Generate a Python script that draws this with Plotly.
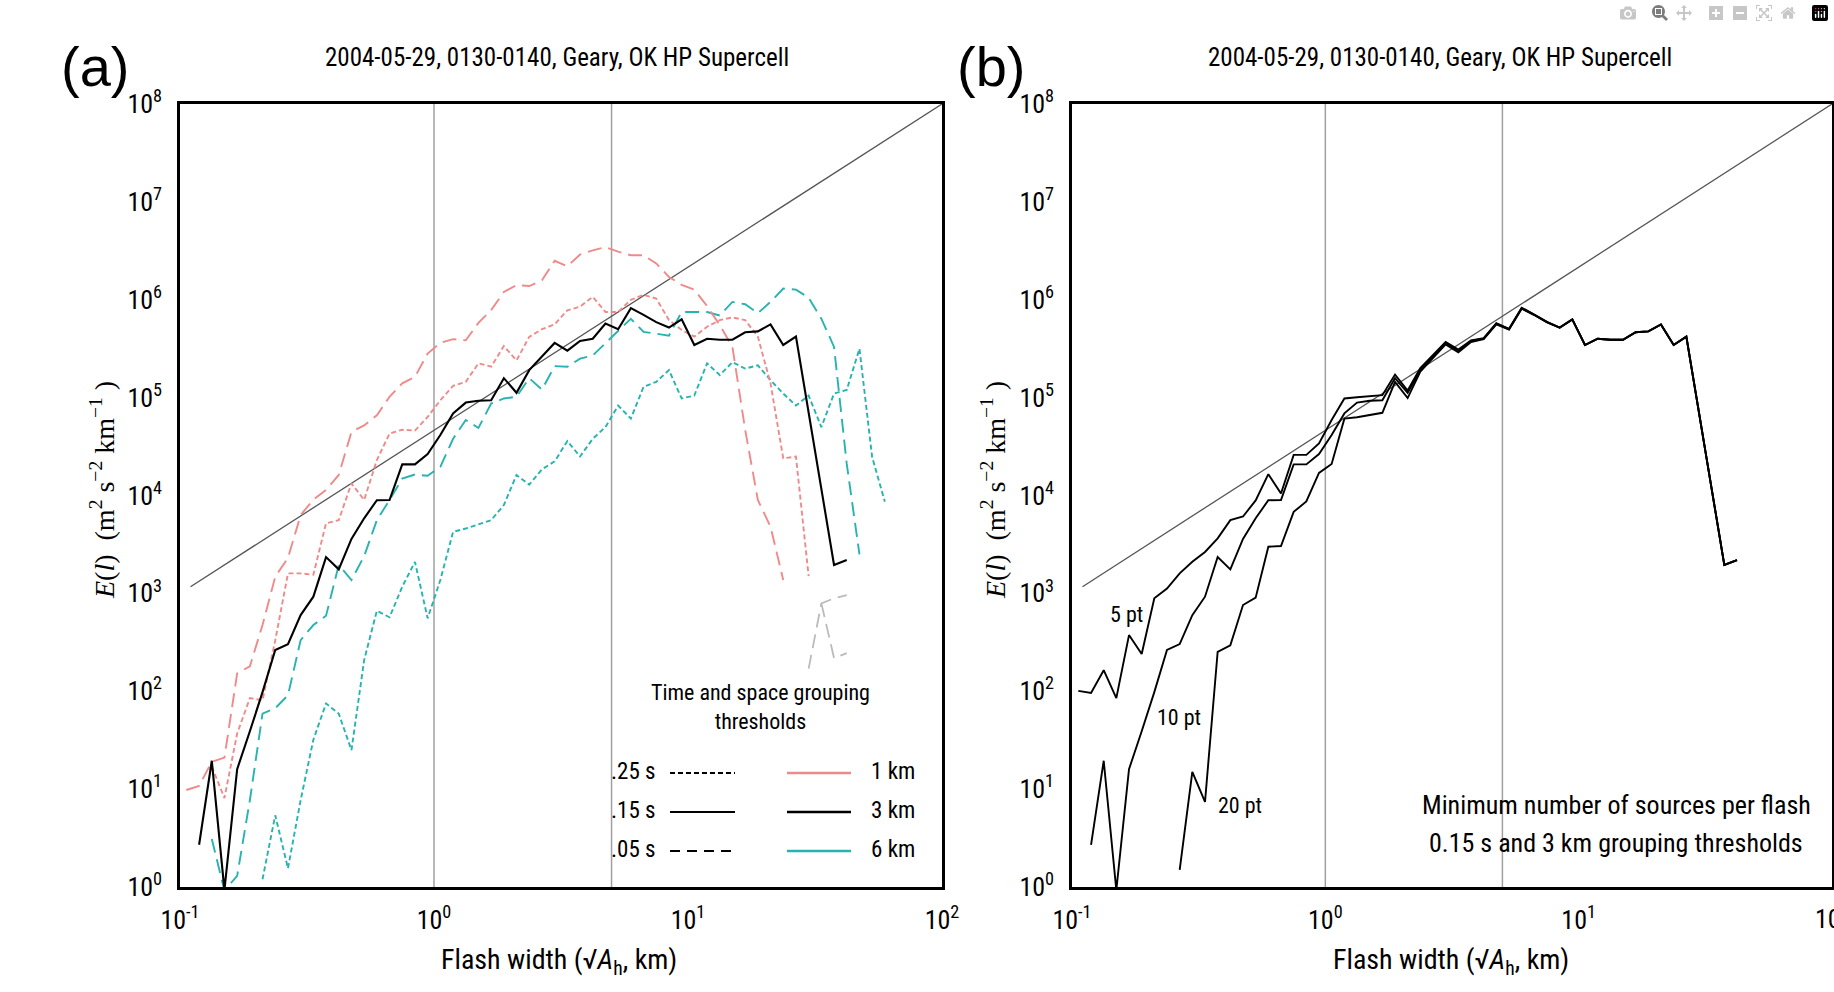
import plotly.graph_objects as go

N = None
W, H = 1834, 992

# ---------------- data ----------------
# flash-width bins (km), shared by every curve
flash_width_km = [0.1059, 0.1189, 0.1334, 0.1496, 0.1679, 0.1884, 0.2113, 0.2371, 0.2661, 0.2985,
                  0.3350, 0.3758, 0.4217, 0.4732, 0.5309, 0.5957, 0.6683, 0.7499, 0.8414, 0.9441,
                  1.059, 1.189, 1.334, 1.496, 1.679, 1.884, 2.113, 2.371, 2.661, 2.985,
                  3.350, 3.758, 4.217, 4.732, 5.309, 5.957, 6.683, 7.499, 8.414, 9.441,
                  10.59, 11.89, 13.34, 14.96, 16.79, 18.84, 21.13, 23.71, 26.61, 29.85,
                  33.50, 37.58, 42.17, 47.32, 53.09, 59.57]

# panel (a): 1 km / 0.05 s (long dash, salmon)
e_1km_005s = [9.8, 10.8, 19, 21, 152, 180, 475, 1480, 2300, 6300,
              9100, 11400, 16200, 44600, 52000, 66000, 102000, 140000, 163000, 282000,
              363000, 396000, 385000, 580000, 785000, 1.2e6, 1.41e6, 1.38e6, 1.58e6, 2.5e6,
              2.2e6, 2.9e6, 3.2e6, 3.45e6, 3.1e6, 2.85e6, 2.85e6, 2.35e6, 1.71e6, 1.42e6,
              1.27e6, 8.6e5, 5.5e5, 3.3e5, 4.7e4, 9.0e3, 4.8e3, 1.37e3, N, N,
              N, N, N, N, N, N]
# 1 km / 0.25 s (short dash, salmon)
e_1km_025s = [N, N, 17, 8.1, 37, 85, 81, 330, 1600, 1600,
              1550, 5200, 5600, 13300, 9000, 23000, 43000, 47000, 46000, 63500,
              94000, 132000, 145000, 224000, 207000, 337000, 240000, 418000, 500000, 560000,
              780000, 850000, 1.07e6, 7.5e5, 7.5e5, 1.0e6, 1.12e6, 1.03e6, 6.2e5, 4.9e5,
              4.2e5, 5.3e5, 6.2e5, 6.6e5, 6.2e5, 4.2e5, 1.4e5, 2.4e4, 2.5e4, 1.5e3,
              N, N, N, N, N, N]
# 6 km / 0.05 s (long dash, teal)
e_6km_005s = [N, N, 3.1, 0.92, 1.3, 7.7, 59, 67, 91, 333,
              475, 590, 1950, 1370, 2400, 5600, 9000, 14900, 16400, 15900,
              19600, 38000, 59000, 49000, 87000, 98000, 102000, 158000, 121000, 210000,
              207000, 250000, 270000, 360000, 490000, 640000, 470000, 450000, 430000, 750000,
              750000, 750000, 690000, 950000, 900000, 730000, 950000, 1.3e6, 1.27e6, 1.05e6,
              640000, 330000, 21000, 2500, N, N]
# 6 km / 0.25 s (short dash, teal)
e_6km_025s = [N, N, N, N, N, N, 1.2, 5.4, 1.55, 7.7,
              32, 75, 59, 25, 208, 665, 570, 1170, 2100, 555,
              1370, 4250, 4600, 5100, 5600, 8000, 16200, 12900, 18500, 22300,
              36000, 25000, 38000, 50000, 83000, 61000, 129000, 145000, 191000, 98000,
              105000, 224000, 170000, 230000, 198000, 214000, 151000, 110000, 83000, 105000,
              50000, 110000, 120000, 316000, 24700, 8650]
# 3 km / 0.15 s (solid, black) -- also the 10 pt curve of panel (b)
e_3km_015s = [N, 2.7, 19.5, 0.93, 16, 39, 98, 264, 303, 600,
              925, 2350, 1760, 3600, 5850, 8950, 9000, 20800, 20800, 26500,
              41500, 69000, 89000, 93000, 94000, 158000, 112000, 191000, 263000, 362000,
              302000, 380000, 400000, 570000, 500000, 820000, 700000, 590000, 520000, 630000,
              345000, 400000, 390000, 390000, 465000, 475000, 560000, 345000, 420000, N,
              N, 1950, 2190, N, N, N]
# faint grey fragments near the right end of panel (a)
grey_a_x = [29.85, 33.50, 37.58, 42.17]
grey_a_y = [170, 790, 890, 960]
grey_b_x = [33.50, 37.58, 42.17]
grey_b_y = [790, 218, 245]

# panel (b): minimum number of sources per flash
e_min_5pt = [101, 96, 164, 85, 375, 240, 890, 1120, 1600, 2100,
             2650, 3650, 5600, 6100, 8900, 16500, 10500, 26000, 26000, 34000,
             59000, 98000, 101000, 104000, 106000, 172000, 118000, 200000, 275000, 370000,
             310000, 385000, 405000, 575000, 505000, 830000, 705000, 595000, 520000, 630000,
             345000, 400000, 390000, 390000, 465000, 475000, 560000, 345000, 420000, N,
             N, 1950, 2190, N, N, N]
e_min_10pt = e_3km_015s
e_min_20pt = [N, N, N, N, N, N, N, N, 1.5, 15,
              7.4, 253, 295, 760, 905, 3000, 3050, 6800, 8700, 17000,
              21000, 61000, 63000, 66000, 70000, 145000, 99000, 185000, 255000, 350000,
              290000, 370000, 395000, 560000, 495000, 810000, 698000, 588000, 518000, 628000,
              345000, 400000, 390000, 390000, 465000, 475000, 560000, 345000, 420000, N,
              N, 1950, 2190, N, N, N]

# reference power-law line (slope 5/3) and marker verticals
ref_x = [0.11, 100]
ref_y = [1170, 1e8]
grid_x = [1, 5]

x_tickvals = [0.1, 1, 10, 100]
x_ticktext = ["10<sup>-1</sup>", "10<sup>0</sup>", "10<sup>1</sup>", "10<sup>2</sup>"]
y_tickvals = [10 ** k for k in range(9)]
y_ticktext = ["10<sup>%d</sup>" % k for k in range(9)]

title_text = "2004-05-29, 0130-0140, Geary, OK HP Supercell"

# ---------------- style ----------------
NARROW = "Liberation Sans Narrow, Roboto Condensed, DejaVu Sans Condensed, Arial Narrow, sans-serif"
SERIF = "Liberation Serif, DejaVu Serif, serif"
SALMON = "#F08A8A"
TEAL = "#27B3AF"
SHORT = "5px,3px"
LONG = "14px,7px"

fig = go.Figure()


def add_line(x, y, color, dash, width, xa, ya):
    fig.add_trace(go.Scatter(x=x, y=y, mode="lines", connectgaps=True,
                             line=dict(color=color, dash=dash, width=width),
                             xaxis=xa, yaxis=ya, showlegend=False, hoverinfo="skip"))


# panel (a)
add_line(ref_x, ref_y, "#555555", "solid", 1.3, "x", "y")
add_line(flash_width_km, e_6km_025s, TEAL, SHORT, 1.9, "x", "y")
add_line(flash_width_km, e_6km_005s, TEAL, LONG, 1.9, "x", "y")
add_line(flash_width_km, e_1km_025s, SALMON, SHORT, 1.9, "x", "y")
add_line(flash_width_km, e_1km_005s, SALMON, LONG, 1.9, "x", "y")
add_line(grey_a_x, grey_a_y, "#BBBBBB", LONG, 1.8, "x", "y")
add_line(grey_b_x, grey_b_y, "#BBBBBB", LONG, 1.8, "x", "y")
add_line(flash_width_km, e_3km_015s, "black", "solid", 2.1, "x", "y")

# panel (b)
add_line(ref_x, ref_y, "#555555", "solid", 1.3, "x2", "y2")
add_line(flash_width_km, e_min_20pt, "black", "solid", 1.9, "x2", "y2")
add_line(flash_width_km, e_min_10pt, "black", "solid", 1.9, "x2", "y2")
add_line(flash_width_km, e_min_5pt, "black", "solid", 1.9, "x2", "y2")

for xa, ya in (("x", "y"), ("x2", "y2")):
    for gx in grid_x:
        fig.add_shape(type="line", xref=xa, yref=ya + " domain", x0=gx, x1=gx, y0=0, y1=1,
                      line=dict(color="#A0A0A0", width=1.5), layer="below")


def px(x):
    return x / W


def py(y):
    return 1 - y / H


axis_common = dict(type="log", showgrid=False, zeroline=False, showline=True, mirror=True,
                   linecolor="black", linewidth=2.5, ticks="", automargin=False,
                   tickfont=dict(family=NARROW, size=26, color="black"))

fig.update_layout(
    width=W, height=H, margin=dict(l=0, r=0, t=0, b=0, pad=0, autoexpand=False),
    paper_bgcolor="white", plot_bgcolor="white",
    xaxis=dict(domain=[px(180), px(942)], range=[-1, 2], tickvals=x_tickvals, ticktext=x_ticktext,
               ticklabelstandoff=8, anchor="y", **axis_common),
    yaxis=dict(domain=[py(887), py(104)], range=[0, 8], tickvals=y_tickvals, ticktext=y_ticktext,
               ticklabelstandoff=10, anchor="x", **axis_common),
    xaxis2=dict(domain=[px(1072), px(1832)], range=[-1, 2], tickvals=x_tickvals, ticktext=x_ticktext,
                ticklabelstandoff=8, anchor="y2", **axis_common),
    yaxis2=dict(domain=[py(887), py(104)], range=[0, 8], tickvals=y_tickvals, ticktext=y_ticktext,
                ticklabelstandoff=10, anchor="x2", **axis_common),
    showlegend=False,
)


def note(text, x, y, size, family=NARROW, xanchor="center", angle=0):
    fig.add_annotation(text=text, xref="paper", yref="paper", x=px(x), y=py(y),
                       xanchor=xanchor, yanchor="middle", showarrow=False, textangle=angle,
                       font=dict(family=family, size=size, color="black"))


# panel labels and titles
note("(a)", 95, 67, 56, family="Liberation Sans, Arial, sans-serif")
note("(b)", 991, 67, 56, family="Liberation Sans, Arial, sans-serif")
note(title_text, 557, 57, 25)
note(title_text, 1440, 57, 25)

# last x tick label of panel (b), cut by the page edge as in the original
note(x_ticktext[-1], 1832, 917, 26)

# axis titles
xtitle = "Flash width (√<i>A</i><sub>h</sub>, km)"
ytitle = "<i>E</i>(<i>l</i>)  (m<sup>2</sup> s<sup>−2</sup> km<sup>−1</sup> )"
note(xtitle, 559, 961, 28)
note(xtitle, 1451, 961, 28)
note(ytitle, 103, 490, 28, family=SERIF, angle=-90)
note(ytitle, 994, 490, 28, family=SERIF, angle=-90)

# custom legend in panel (a)
note("Time and space grouping<br>thresholds", 760, 707, 22)
legend_rows = [(".25 s", SHORT, SALMON, "1 km", 771),
               (".15 s", "solid", "black", "3 km", 810),
               (".05 s", "10px,7px", TEAL, "6 km", 849)]
for lab_t, dash, col, lab_s, yy in legend_rows:
    note(lab_t, 658, yy, 23, xanchor="right")
    note(lab_s, 869, yy, 23, xanchor="left")
    fig.add_shape(type="line", xref="paper", yref="paper", x0=px(670), x1=px(735),
                  y0=py(yy + 2), y1=py(yy + 2), line=dict(color="black", width=2, dash=dash))
    fig.add_shape(type="line", xref="paper", yref="paper", x0=px(787), x1=px(851),
                  y0=py(yy + 2), y1=py(yy + 2), line=dict(color=col, width=2.5))

# panel (b) annotations
note("5 pt", 1126, 614, 22)
note("10 pt", 1179, 717, 22)
note("20 pt", 1240, 805, 22)
note("Minimum number of sources per flash", 1616, 805, 26)
note("0.15 s and 3 km grouping thresholds", 1616, 843, 26)

fig.write_html("out.html", post_script="document.body.style.margin='0';document.body.style.overflow='hidden';")
